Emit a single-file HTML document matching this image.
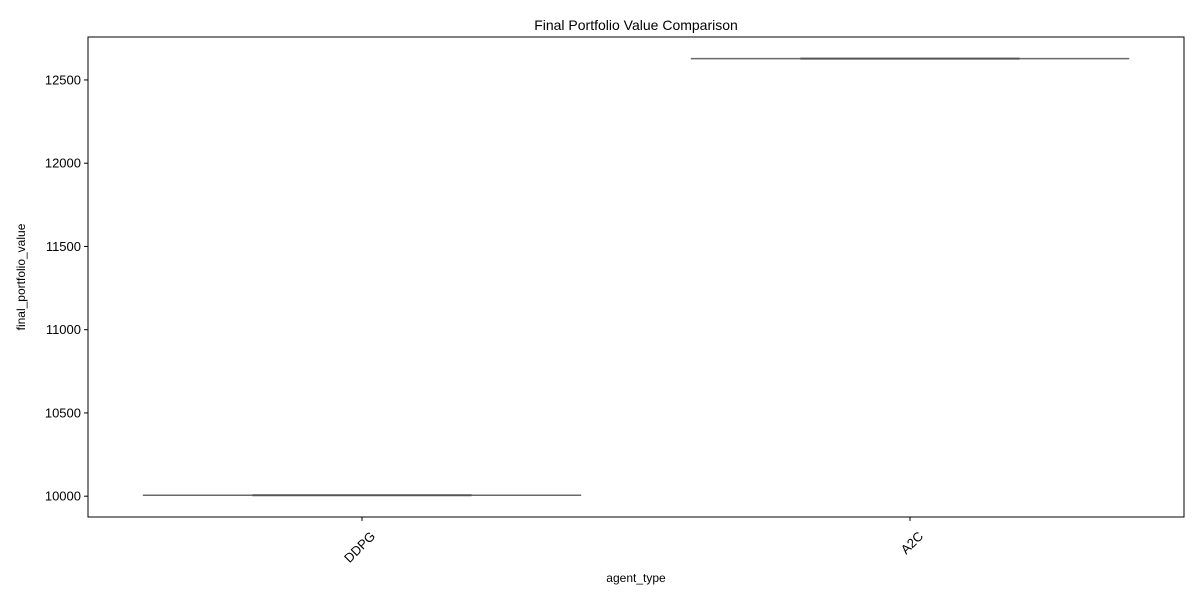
<!DOCTYPE html>
<html><head><meta charset="utf-8"><style>
body{margin:0;background:#fff;}
svg{display:block;font-family:"Liberation Sans","DejaVu Sans",sans-serif;}
</style></head><body>
<svg id="chart" width="1200" height="600">
<rect width="1200" height="600" fill="#fff"/>
<text x="636" y="30" text-anchor="middle" font-size="14">Final Portfolio Value Comparison</text>
<g id="marks"></g>
<rect x="88" y="37" width="1096" height="480" fill="none" stroke="#000" stroke-width="1"/>
<g id="yaxis" font-size="13"></g>
<g id="xaxis" font-size="13"></g>
<text x="636" y="582" text-anchor="middle" font-size="12">agent_type</text>
<text transform="translate(25,277) rotate(-90)" text-anchor="middle" font-size="12">final_portfolio_value</text>
</svg>
<script>
const categories = ["DDPG", "A2C"];
const values = [10006, 12628];
const yTicks = [10000, 10500, 11000, 11500, 12000, 12500];

const pLeft = 88, pRight = 1184, pTop = 37, pBottom = 517;
const yMin = 9875, yMax = 12758;
function yScale(v){ return pBottom - (v - yMin) / (yMax - yMin) * (pBottom - pTop); }
const band = (pRight - pLeft) / categories.length;
function xScale(i){ return pLeft + band * (i + 0.5); }
const ns = "http://www.w3.org/2000/svg";
function mk(tag, attrs, parent){ const e = document.createElementNS(ns, tag); for (const k in attrs) e.setAttribute(k, attrs[k]); parent.appendChild(e); return e; }

const ya = document.getElementById('yaxis');
yTicks.forEach(t => {
  const tk = mk('line', {x1: pLeft - 4, x2: pLeft, y1: yScale(t), y2: yScale(t), stroke: '#000'}, ya);
  
  
  const lb = mk('text', {x: pLeft - 7, y: yScale(t) + 4.5, 'text-anchor': 'end'}, ya);
  lb.textContent = t;
  
  
});

const xa = document.getElementById('xaxis');
const mg = document.getElementById('marks');
categories.forEach((c, i) => {
  const cx = xScale(i);
  const tk = mk('line', {x1: cx, x2: cx, y1: pBottom, y2: pBottom + 4, stroke: '#000'}, xa);
  
  
  const lb = mk('text', {x: 0, y: 0, 'text-anchor': 'end', transform: `translate(${cx + 14},${pBottom + 20}) rotate(-45)`}, xa);
  lb.textContent = c;
  
  
  const w = band * 0.8, yy = yScale(values[i]);
  const cap = mk('line', {x1: cx - w / 2, x2: cx + w / 2, y1: yy, y2: yy, stroke: '#6a6a6a', 'stroke-width': 1.5}, mg);
  
  
  const med = mk('line', {x1: cx - w / 4, x2: cx + w / 4, y1: yy, y2: yy, stroke: '#555', 'stroke-width': 2}, mg);
  
  
});
</script>
</body></html>
